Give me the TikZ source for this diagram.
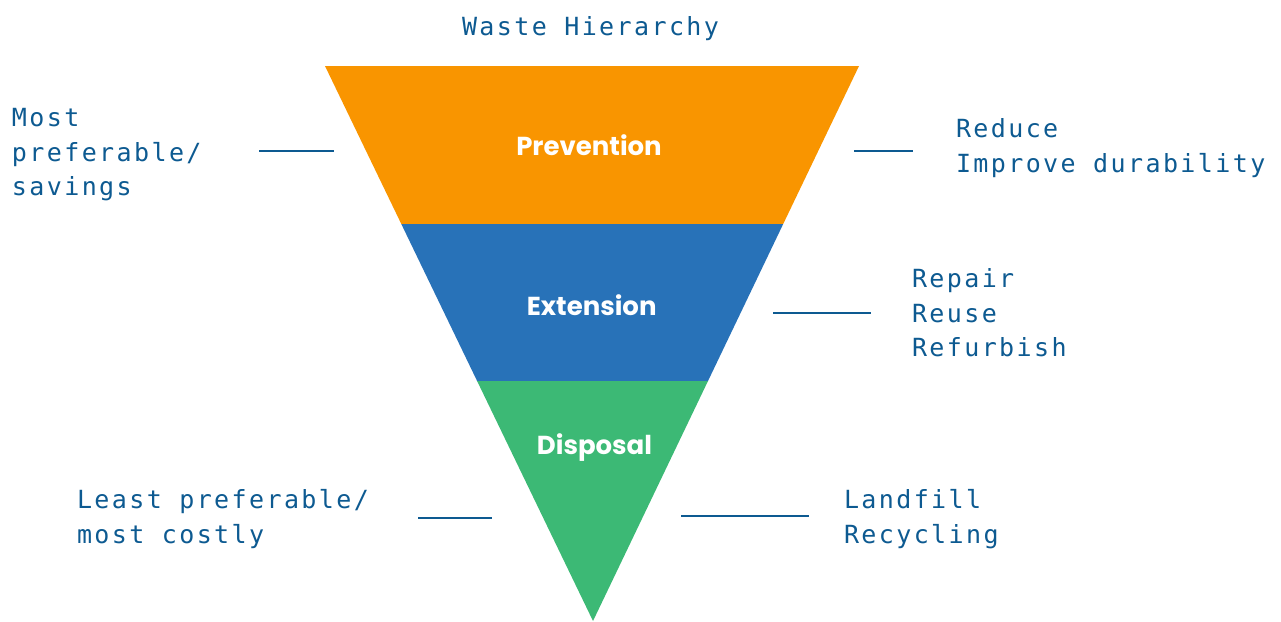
\documentclass[tikz,border=0pt]{standalone}
\usepackage{fontspec}
\newfontfamily\monof[LetterSpace=9.6]{DejaVu Sans Mono}
\newfontfamily\boldf{Poppins}[BoldFont=* Bold]
\definecolor{txtblue}{HTML}{0D5A91}
\definecolor{orangeband}{HTML}{F99500}
\definecolor{blueband}{HTML}{2872B8}
\definecolor{greenband}{HTML}{3CB975}
\tikzset{
  lbl/.style={anchor=base west, inner sep=0pt, outer sep=0pt, text=txtblue, font=\monof\fontsize{25}{30}\selectfont},
  band/.style={anchor=base, inner sep=0pt, text=white, font=\boldf\bfseries\fontsize{26}{30}\selectfont},
  leader/.style={draw=txtblue, line width=1.5pt}
}
\begin{document}
\begin{tikzpicture}[x=1pt,y=-1pt]
\useasboundingbox (0,0) rectangle (1281,621);
% funnel bands
\fill[orangeband] (325,66) -- (859,66) -- (783.2,224) -- (401.3,224) -- cycle;
\fill[blueband] (401.3,224) -- (783.2,224) -- (708,381) -- (477.1,381) -- cycle;
\fill[greenband] (477.1,381) -- (708,381) -- (593,621) -- cycle;
% band labels
\node[band] (prev) at (589,155) {Prevention};
\node[band] (ext) at (591.7,315) {Extension};
\node[band] (disp) at (594.5,454) {Disposal};
% title
\node[lbl] (title) at (462,35) {Waste Hierarchy};
% left top
\node[lbl] (m1) at (12,126) {Most};
\node[lbl] (m2) at (12,161) {preferable/};
\node[lbl] (m3) at (12,195) {savings};
% right top
\node[lbl] (r1) at (956,137) {Reduce};
\node[lbl] (r2) at (956,172) {Improve durability};
% right middle
\node[lbl] (e1) at (912,287) {Repair};
\node[lbl] (e2) at (912,322) {Reuse};
\node[lbl] (e3) at (912,356) {Refurbish};
% left bottom
\node[lbl] (l1) at (77,508) {Least preferable/};
\node[lbl] (l2) at (77,543) {most costly};
% right bottom
\node[lbl] (d1) at (844,508) {Landfill};
\node[lbl] (d2) at (844,543) {Recycling};
% leader lines
\coordinate (a1) at (259,151); \coordinate (a2) at (334,151);
\coordinate (b1) at (854,151); \coordinate (b2) at (913,151);
\coordinate (c1) at (773,313); \coordinate (c2) at (871,313);
\coordinate (d1c) at (418,518); \coordinate (d2c) at (492,518);
\coordinate (e1c) at (681,516); \coordinate (e2c) at (809,516);
\draw[leader] (a1) -- (a2);
\draw[leader] (b1) -- (b2);
\draw[leader] (c1) -- (c2);
\draw[leader] (d1c) -- (d2c);
\draw[leader] (e1c) -- (e2c);
\end{tikzpicture}
\end{document}
